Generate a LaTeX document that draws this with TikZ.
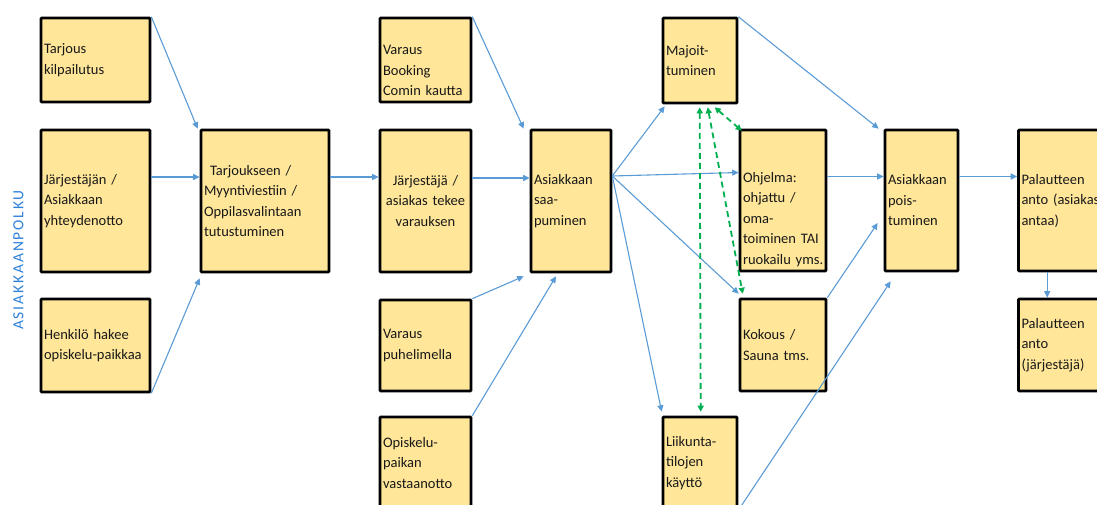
\documentclass[tikz,border=0pt]{standalone}
\usepackage{fontspec}
\setmainfont{Carlito}
\newfontfamily\vertfont[LetterSpace=12]{Carlito}
\usetikzlibrary{arrows.meta}
\definecolor{boxfill}{RGB}{255,230,153}
\definecolor{arrowblue}{RGB}{91,155,213}
\definecolor{dashgreen}{RGB}{0,176,80}
\definecolor{labelblue}{RGB}{47,128,217}
\begin{document}
\begin{tikzpicture}[x=1pt,y=-1pt,
  box/.style={draw=black, line width=2.6pt, fill=boxfill, rounded corners=0.8pt,
    inner xsep=3pt, inner ysep=0pt, align=left,
    font=\fontsize{14.5}{20.5}\selectfont, text=black!90},
  flow/.style={draw=arrowblue, line width=1.1pt, -{Triangle[length=6.5pt,width=6pt]}},
  link/.style={draw=dashgreen, line width=1.8pt, dash pattern=on 6pt off 4pt,
    {Triangle[length=6pt,width=6pt]}-{Triangle[length=6pt,width=6pt]}}]
\useasboundingbox (0,0) rectangle (1097,505);
\clip (0,0) rectangle (1097,505);

% vertical label
\node[font=\vertfont\fontsize{15.5}{15.5}\selectfont, text=labelblue, rotate=90] (lbl) at (18.5,260) {ASIAKKAANPOLKU};

% column A
\node[box, minimum width=109pt, text width=103pt, minimum height=84pt] (a1) at (95.5,60) {Tarjous\\kilpailutus};
\node[box, minimum width=109pt, text width=103pt, minimum height=142pt] (a2) at (95.5,201) {Järjestäjän /\\Asiakkaan\\yhteydenotto};
\node[box, minimum width=109pt, text width=103pt, minimum height=93pt] (a3) at (95.5,345.5) {Henkilö hakee\\opiskelu-paikkaa};

% column B
\node[box, minimum width=128pt, text width=122pt, minimum height=142pt] (b) at (265,201) {\hspace{6pt}Tarjoukseen /\\Myyntiviestiin /\\Oppilasvalintaan\\tutustuminen};

% column C
\node[box, minimum width=91pt, text width=85pt, minimum height=84pt] (c1) at (425.5,60) {\rule{0pt}{31pt}Varaus\\Booking\\Comin kautta};
\node[box, minimum width=91pt, text width=85pt, minimum height=142pt, align=center] (c2) at (425.5,201) {Järjestäjä /\\asiakas tekee\\varauksen};
\node[box, minimum width=91pt, text width=85pt, minimum height=91pt] (c3) at (425.5,345.5) {Varaus\\puhelimella};
\node[box, minimum width=91pt, text width=85pt, minimum height=92pt] (c4) at (425.5,463) {Opiskelu-\\paikan\\vastaanotto};

% column D
\node[box, minimum width=80pt, text width=74pt, minimum height=142pt] (d) at (571,201) {Asiakkaan\\saa-\\puminen};

% column E
\node[box, minimum width=74pt, text width=68pt, minimum height=85pt] (e1) at (700,60.5) {Majoit-\\tuminen};
\node[box, minimum width=86pt, inner xsep=1pt, text width=84pt, minimum height=141pt] (e2) at (783,200.5) {\rule{0pt}{48pt}\hspace{2pt}Ohjelma:\\\hspace*{2pt}ohjattu /\\\hspace*{2pt}oma-\\\hspace*{2pt}toiminen TAI\\\hspace*{2pt}ruokailu yms.};
\node[box, minimum width=86pt, text width=80pt, minimum height=92pt] (e3) at (783,345) {Kokous /\\Sauna tms.};
\node[box, minimum width=74pt, text width=68pt, minimum height=92pt] (e4) at (700,463) {Liikunta-\\tilojen\\käyttö};

% column F
\node[box, minimum width=73pt, text width=67pt, minimum height=141pt] (f) at (921.5,200.5) {Asiakkaan\\pois-\\tuminen};

% column G
\node[box, minimum width=90pt, text width=84pt, minimum height=141pt] (g1) at (1063.5,200.5) {Palautteen\\anto (asiakas\\antaa)};
\node[box, minimum width=90pt, text width=84pt, minimum height=92pt] (g2) at (1063.5,345) {Palautteen\\anto\\(järjestäjä)};

% blue connectors
\draw[flow] (a1.north east) -- ([xshift=-2pt]b.north west);
\draw[flow] ([yshift=24pt]a2.east) -- ([yshift=24pt]b.west);
\draw[flow] (a3.south east) -- ([yshift=-5pt]b.south west);
\draw[flow] ([yshift=24pt]b.east) -- ([yshift=24pt]c2.west);
\draw[flow] (c1.north east) -- ([xshift=-6pt]d.north west);
\draw[flow] ([yshift=23pt]c2.east) -- ([yshift=23pt]d.west);
\draw[flow] (c3.north east) -- ([xshift=-6pt,yshift=-3pt]d.south west);
\draw[flow] (c4.north east) -- ([xshift=-15pt,yshift=-3pt]d.south);
\coordinate (fan) at ([yshift=25pt]d.east);
\draw[flow] (fan) -- ([xshift=3pt,yshift=-2pt]e1.south west);
\draw[flow] (fan) -- ([yshift=28pt]e2.west);
\draw[flow] (fan) -- ([yshift=4pt]e3.north west);
\draw[flow] (fan) -- ([yshift=4pt]e4.north west);
\draw[flow] (e1.north east) -- ([xshift=-5pt]f.north west);
\draw[flow] ([yshift=24pt]e2.east) -- ([yshift=24pt]f.west);
\draw[flow] (e3.north east) -- ([xshift=-6pt,yshift=-22.5pt]f.west);
\draw[flow] (e4.south east) -- ([xshift=7pt,yshift=-9pt]f.south west);
\draw[flow] ([yshift=24pt]f.east) -- ([yshift=24pt]g1.west);
\draw[flow] ([xshift=30pt]g1.south west) -- ([xshift=30pt]g2.north west);

% green dashed connectors
\draw[link] ([xshift=38pt,yshift=-3pt]e1.south west) -- ([xshift=39pt,yshift=4pt]e4.north west);
\draw[link] ([xshift=46pt,yshift=-3pt]e1.south west) -- ([xshift=4pt,yshift=4pt]e3.north west);
\draw[link] ([xshift=53pt,yshift=-3pt]e1.south west) -- ([xshift=3pt,yshift=-2pt]e2.north west);
\end{tikzpicture}
\end{document}
